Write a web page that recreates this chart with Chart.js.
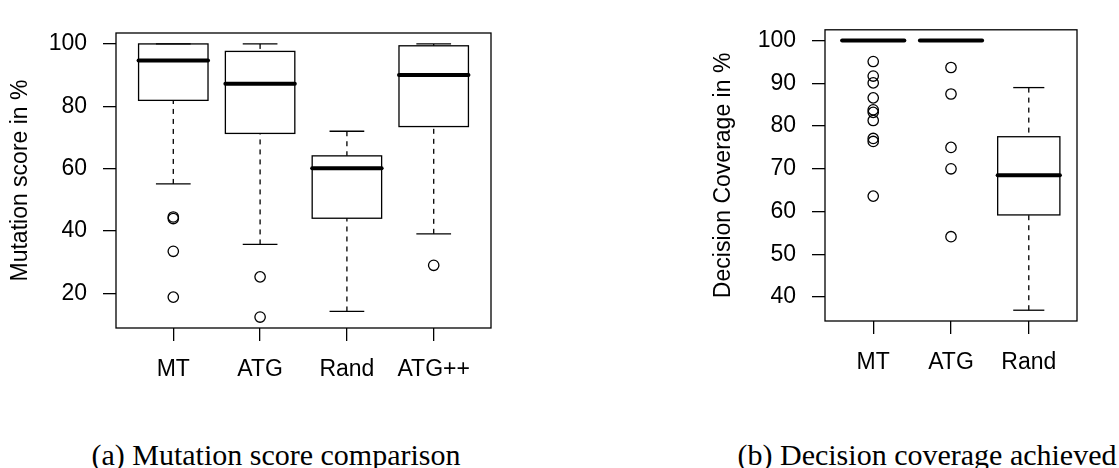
<!DOCTYPE html>
<html>
<head>
<meta charset="utf-8">
<script src="https://cdn.jsdelivr.net/npm/chart.js@4.4.1/dist/chart.umd.min.js"></script>
<style>
  html, body { margin: 0; padding: 0; background: #fff; }
  body { position: relative; width: 1119px; height: 468px; overflow: hidden; }
  canvas { position: absolute; top: 0; }
  #score { left: 0; }
  #coverage { left: 680px; }
  .caption {
    position: absolute; top: 440px; line-height: 30px;
    font-family: 'Liberation Serif', 'Times New Roman', serif; font-size: 30px;
    color: #000; white-space: nowrap; transform: translateX(-50%);
  }
</style>
</head>
<body>
<canvas id="score" width="550" height="400"></canvas>
<canvas id="coverage" width="439" height="400"></canvas>
<div class="caption" style="left:276px">(a) Mutation score comparison</div>
<div class="caption" style="left:927px">(b) Decision coverage achieved</div>
<script>
// (a) mutation score, one entry per tool
const scoreLabels = ['MT', 'ATG', 'Rand', 'ATG++'];
const scoreLow = [55.1, 35.7, 14.2, 39.1];
const scoreQ1 = [81.9, 71.3, 44.1, 73.5];
const scoreMedian = [94.7, 87.2, 60.1, 90.0];
const scoreQ3 = [100, 97.6, 64.1, 99.4];
const scoreHigh = [100, 100, 72.0, 100];
const scoreOutliers = [[44.5, 44.0, 33.5, 18.8], [25.3, 12.4], [], [29.0]];
const scoreTicks = [20, 40, 60, 80, 100];

// (b) decision coverage
const covLabels = ['MT', 'ATG', 'Rand'];
const covLow = [100, 100, 36.9];
const covQ1 = [100, 100, 59.2];
const covMedian = [100, 100, 68.5];
const covQ3 = [100, 100, 77.5];
const covHigh = [100, 100, 89.0];
const covOutliers = [
    [95.1, 91.7, 90.1, 86.6, 83.8, 83.2, 81.3, 77.1, 76.4, 63.6],
    [93.7, 87.5, 75.0, 70.0, 54.1],
    [],
];
const covTicks = [40, 50, 60, 70, 80, 90, 100];

const FONT = "'Liberation Sans', Arial, sans-serif";

// draws R style boxes, whiskers and the frame from the stats, via the chart scales
const boxplotPlugin = (stats) => ({
    id: 'boxplot',
    beforeDatasetsDraw(chart) {
        const {ctx, chartArea, scales: {x, y}} = chart;
        const unit = x.getPixelForValue(1) - x.getPixelForValue(0);
        const line = (x1, y1, x2, y2) => {
            ctx.beginPath();
            ctx.moveTo(x1, y1);
            ctx.lineTo(x2, y2);
            ctx.stroke();
        };
        ctx.save();
        ctx.strokeStyle = '#000';
        stats.median.forEach((med, i) => {
            const cx = x.getPixelForValue(i + 1);
            const half = unit * 0.4;
            const staple = unit * 0.2;
            const yLow = y.getPixelForValue(stats.low[i]);
            const yQ1 = y.getPixelForValue(stats.q1[i]);
            const yMed = y.getPixelForValue(med);
            const yQ3 = y.getPixelForValue(stats.q3[i]);
            const yHigh = y.getPixelForValue(stats.high[i]);

            ctx.lineWidth = 1.3;
            ctx.lineCap = 'butt';
            ctx.setLineDash([5, 5]);
            line(cx, yLow, cx, yQ1);
            line(cx, yHigh, cx, yQ3);
            ctx.setLineDash([]);
            line(cx - staple, yLow, cx + staple, yLow);
            line(cx - staple, yHigh, cx + staple, yHigh);
            ctx.strokeRect(cx - half, yQ3, half * 2, yQ1 - yQ3);

            ctx.lineWidth = 4;
            ctx.lineCap = 'round';
            line(cx - half, yMed, cx + half, yMed);
        });
        ctx.lineWidth = 1.3;
        ctx.lineCap = 'butt';
        ctx.strokeRect(chartArea.left, chartArea.top, chartArea.width, chartArea.height);
        ctx.restore();
    }
});

const makeChart = (id, c) => {
    // R pads the range by 4% on each side
    const all = c.low.concat(c.high, ...c.outliers);
    const lo = Math.min(...all), hi = Math.max(...all);
    const pad = (hi - lo) * 0.04;
    const n = c.labels.length;
    const points = [];
    c.outliers.forEach((list, i) => list.forEach((v) => points.push({x: i + 1, y: v})));

    return new Chart(document.getElementById(id), {
        type: 'scatter',
        data: {
            datasets: [{
                data: points,
                pointStyle: 'circle',
                pointRadius: 5.2,
                pointHoverRadius: 5.2,
                borderColor: '#000',
                backgroundColor: 'rgba(0,0,0,0)',
                borderWidth: 1.3,
            }]
        },
        options: {
            responsive: false,
            animation: false,
            devicePixelRatio: 1,
            layout: {padding: c.padding},
            plugins: {
                legend: {display: false},
                tooltip: {enabled: false},
            },
            scales: {
                x: {
                    type: 'linear',
                    min: 0.5 - n * 0.04,
                    max: n + 0.5 + n * 0.04,
                    afterBuildTicks: (scale) => {
                        scale.ticks = c.labels.map((_, i) => ({value: i + 1}));
                    },
                    afterFit: (scale) => { scale.height = 60; },
                    ticks: {
                        callback: (v) => c.labels[v - 1],
                        autoSkip: false,
                        maxRotation: 0,
                        padding: 15,
                        color: '#000',
                        font: {family: FONT, size: 23},
                    },
                    grid: {drawOnChartArea: false, tickLength: 13, color: '#000', lineWidth: 1.3},
                    border: {display: false},
                },
                y: {
                    type: 'linear',
                    min: lo - pad,
                    max: hi + pad,
                    afterBuildTicks: (scale) => {
                        scale.ticks = c.ticks.map((v) => ({value: v}));
                    },
                    afterFit: (scale) => { scale.width = c.yWidth; },
                    ticks: {
                        padding: 16,
                        color: '#000',
                        font: {family: FONT, size: 23},
                    },
                    grid: {drawOnChartArea: false, tickLength: 13, color: '#000', lineWidth: 1.3},
                    border: {display: false},
                    title: {
                        display: true,
                        text: c.title,
                        color: '#000',
                        font: {family: FONT, size: 23},
                        padding: {top: c.titleOffset, bottom: 0},
                    },
                },
            },
        },
        plugins: [boxplotPlugin(c)],
    });
};

makeChart('score', {
    labels: scoreLabels, low: scoreLow, q1: scoreQ1, median: scoreMedian,
    q3: scoreQ3, high: scoreHigh, outliers: scoreOutliers, ticks: scoreTicks,
    title: 'Mutation score in %',
    yWidth: 116, titleOffset: 7,
    padding: {left: 0, top: 33, right: 59, bottom: 12},
});

makeChart('coverage', {
    labels: covLabels, low: covLow, q1: covQ1, median: covMedian,
    q3: covQ3, high: covHigh, outliers: covOutliers, ticks: covTicks,
    title: 'Decision Coverage in %',
    yWidth: 145, titleOffset: 30,
    padding: {left: 0, top: 10, right: 42, bottom: 19},
});
</script>
</body>
</html>
